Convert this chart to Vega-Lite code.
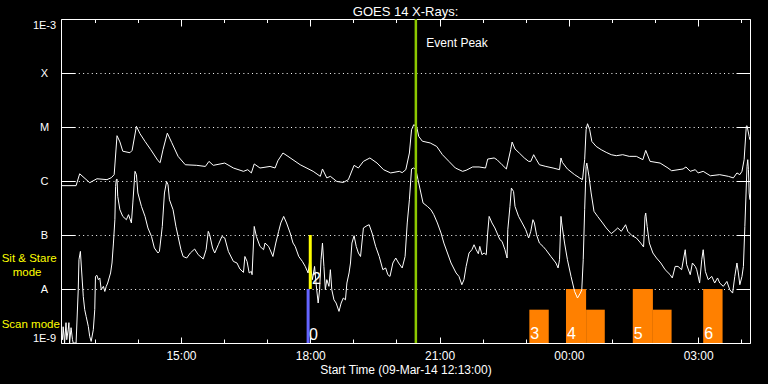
{
"$schema": "https://vega.github.io/schema/vega-lite/v6.json",
"width": 689, "height": 324, "autosize": "none",
"padding": {"left": 61, "top": 19, "right": 18, "bottom": 41},
"background": "black",
"config": {"view": {"stroke": null}, "font": "Liberation Sans", "axis": {"labelFont": "Liberation Sans", "titleFont": "Liberation Sans", "tickWidth": 1, "domainWidth": 1}},
"title": {"text": "GOES 14 X-Rays:", "color": "white", "fontSize": 13, "fontWeight": "normal", "font": "Liberation Sans", "anchor": "middle", "frame": "group", "offset": 5, "baseline": "alphabetic", "dy": 16},
"datasets": {
"upper": [
{"t":"2014-03-09T12:13","f":8.2e-7},{"t":"2014-03-09T12:34","f":8.2e-7},{"t":"2014-03-09T12:39","f":1.36e-6},{"t":"2014-03-09T12:53","f":9.3e-7},{"t":"2014-03-09T13:03","f":1.1e-6},{"t":"2014-03-09T13:17","f":1.06e-6},{"t":"2014-03-09T13:23","f":1.15e-6},{"t":"2014-03-09T13:27","f":1.31e-6},{"t":"2014-03-09T13:31","f":6.9e-6},{"t":"2014-03-09T13:35","f":5.3e-6},{"t":"2014-03-09T13:39","f":3.56e-6},{"t":"2014-03-09T13:49","f":3.34e-6},{"t":"2014-03-09T13:52","f":3.69e-6},{"t":"2014-03-09T13:58","f":1.03e-5},{"t":"2014-03-09T14:03","f":7.5e-6},{"t":"2014-03-09T14:10","f":5.4e-6},{"t":"2014-03-09T14:18","f":3.8e-6},{"t":"2014-03-09T14:28","f":2.38e-6},{"t":"2014-03-09T14:31","f":2.18e-6},{"t":"2014-03-09T14:35","f":3.8e-6},{"t":"2014-03-09T14:41","f":7.7e-6},{"t":"2014-03-09T14:47","f":5.2e-6},{"t":"2014-03-09T14:56","f":2.86e-6},{"t":"2014-03-09T15:06","f":2.0e-6},{"t":"2014-03-09T15:22","f":1.95e-6},{"t":"2014-03-09T15:34","f":1.86e-6},{"t":"2014-03-09T15:39","f":2.31e-6},{"t":"2014-03-09T15:45","f":1.95e-6},{"t":"2014-03-09T16:01","f":2.15e-6},{"t":"2014-03-09T16:13","f":1.74e-6},{"t":"2014-03-09T16:27","f":1.51e-6},{"t":"2014-03-09T16:33","f":1.62e-6},{"t":"2014-03-09T16:38","f":1.41e-6},{"t":"2014-03-09T16:42","f":2.07e-6},{"t":"2014-03-09T16:50","f":1.74e-6},{"t":"2014-03-09T17:04","f":1.86e-6},{"t":"2014-03-09T17:11","f":1.74e-6},{"t":"2014-03-09T17:15","f":2.38e-6},{"t":"2014-03-09T17:22","f":3.3e-6},{"t":"2014-03-09T17:29","f":2.86e-6},{"t":"2014-03-09T17:46","f":2.0e-6},{"t":"2014-03-09T18:04","f":1.51e-6},{"t":"2014-03-09T18:14","f":1.22e-6},{"t":"2014-03-09T18:17","f":1.67e-6},{"t":"2014-03-09T18:23","f":1.14e-6},{"t":"2014-03-09T18:28","f":1.22e-6},{"t":"2014-03-09T18:37","f":9.8e-7},{"t":"2014-03-09T18:46","f":9.4e-7},{"t":"2014-03-09T18:53","f":1.06e-6},{"t":"2014-03-09T19:01","f":1.95e-6},{"t":"2014-03-09T19:07","f":1.74e-6},{"t":"2014-03-09T19:14","f":2.31e-6},{"t":"2014-03-09T19:23","f":2.67e-6},{"t":"2014-03-09T19:33","f":2.15e-6},{"t":"2014-03-09T19:42","f":1.62e-6},{"t":"2014-03-09T19:52","f":1.41e-6},{"t":"2014-03-09T20:04","f":1.51e-6},{"t":"2014-03-09T20:08","f":1.43e-6},{"t":"2014-03-09T20:13","f":1.62e-6},{"t":"2014-03-09T20:18","f":3.3e-6},{"t":"2014-03-09T20:21","f":8.9e-6},{"t":"2014-03-09T20:24","f":1.1e-5},{"t":"2014-03-09T20:28","f":1.03e-5},{"t":"2014-03-09T20:31","f":6.7e-6},{"t":"2014-03-09T20:36","f":5.46e-6},{"t":"2014-03-09T20:47","f":5.06e-6},{"t":"2014-03-09T20:56","f":4.37e-6},{"t":"2014-03-09T21:04","f":3.07e-6},{"t":"2014-03-09T21:13","f":2.31e-6},{"t":"2014-03-09T21:22","f":1.74e-6},{"t":"2014-03-09T21:32","f":1.51e-6},{"t":"2014-03-09T21:37","f":1.58e-6},{"t":"2014-03-09T21:46","f":1.82e-6},{"t":"2014-03-09T21:55","f":1.82e-6},{"t":"2014-03-09T22:04","f":1.74e-6},{"t":"2014-03-09T22:07","f":2.55e-6},{"t":"2014-03-09T22:16","f":2.67e-6},{"t":"2014-03-09T22:20","f":2.48e-6},{"t":"2014-03-09T22:27","f":2.0e-6},{"t":"2014-03-09T22:33","f":1.67e-6},{"t":"2014-03-09T22:39","f":3.8e-6},{"t":"2014-03-09T22:41","f":5.27e-6},{"t":"2014-03-09T22:45","f":3.92e-6},{"t":"2014-03-09T22:51","f":3.3e-6},{"t":"2014-03-09T22:58","f":2.67e-6},{"t":"2014-03-09T23:04","f":2.31e-6},{"t":"2014-03-09T23:07","f":2.31e-6},{"t":"2014-03-09T23:11","f":3.07e-6},{"t":"2014-03-09T23:14","f":2.59e-6},{"t":"2014-03-09T23:19","f":2.0e-6},{"t":"2014-03-09T23:28","f":1.86e-6},{"t":"2014-03-09T23:38","f":1.74e-6},{"t":"2014-03-09T23:47","f":1.62e-6},{"t":"2014-03-09T23:49","f":2.67e-6},{"t":"2014-03-09T23:51","f":2.21e-6},{"t":"2014-03-09T23:58","f":1.67e-6},{"t":"2014-03-10T00:08","f":1.31e-6},{"t":"2014-03-10T00:15","f":1.14e-6},{"t":"2014-03-10T00:19","f":1.06e-6},{"t":"2014-03-10T00:22","f":2.48e-6},{"t":"2014-03-10T00:24","f":8.9e-6},{"t":"2014-03-10T00:26","f":1.15e-5},{"t":"2014-03-10T00:29","f":8.9e-6},{"t":"2014-03-10T00:32","f":5.4e-6},{"t":"2014-03-10T00:38","f":4.37e-6},{"t":"2014-03-10T00:45","f":3.8e-6},{"t":"2014-03-10T00:52","f":3.39e-6},{"t":"2014-03-10T00:59","f":3.07e-6},{"t":"2014-03-10T01:06","f":2.94e-6},{"t":"2014-03-10T01:15","f":3.07e-6},{"t":"2014-03-10T01:24","f":2.86e-6},{"t":"2014-03-10T01:34","f":2.86e-6},{"t":"2014-03-10T01:43","f":2.48e-6},{"t":"2014-03-10T01:47","f":3.69e-6},{"t":"2014-03-10T01:53","f":2.31e-6},{"t":"2014-03-10T02:07","f":2.15e-6},{"t":"2014-03-10T02:18","f":1.74e-6},{"t":"2014-03-10T02:23","f":1.55e-6},{"t":"2014-03-10T02:39","f":1.67e-6},{"t":"2014-03-10T02:43","f":1.82e-6},{"t":"2014-03-10T02:49","f":1.51e-6},{"t":"2014-03-10T02:56","f":1.62e-6},{"t":"2014-03-10T03:00","f":1.41e-6},{"t":"2014-03-10T03:07","f":1.51e-6},{"t":"2014-03-10T03:17","f":1.25e-6},{"t":"2014-03-10T03:30","f":1.31e-6},{"t":"2014-03-10T03:42","f":1.22e-6},{"t":"2014-03-10T03:49","f":1.14e-6},{"t":"2014-03-10T03:54","f":1.41e-6},{"t":"2014-03-10T03:58","f":1.31e-6},{"t":"2014-03-10T04:01","f":1.51e-6},{"t":"2014-03-10T04:04","f":2.48e-6},{"t":"2014-03-10T04:07","f":1.03e-5},{"t":"2014-03-10T04:08","f":1.06e-5},{"t":"2014-03-10T04:11","f":6.7e-6},{"t":"2014-03-10T04:12","f":5.8e-6}
],
"lower": [
{"t":"2014-03-09T12:13","f":1.76e-9},{"t":"2014-03-09T12:15","f":1.15e-9},{"t":"2014-03-09T12:16","f":2.0e-9},{"t":"2014-03-09T12:18","f":1.0e-9},{"t":"2014-03-09T12:20","f":2.38e-9},{"t":"2014-03-09T12:21","f":1.15e-9},{"t":"2014-03-09T12:23","f":1.76e-9},{"t":"2014-03-09T12:24","f":2.38e-9},{"t":"2014-03-09T12:25","f":1.0e-9},{"t":"2014-03-09T12:27","f":1.92e-9},{"t":"2014-03-09T12:29","f":1.15e-9},{"t":"2014-03-09T12:30","f":1.0e-9},{"t":"2014-03-09T12:34","f":1.0e-9},{"t":"2014-03-09T12:37","f":9.7e-9},{"t":"2014-03-09T12:38","f":3.49e-8},{"t":"2014-03-09T12:40","f":4.97e-8},{"t":"2014-03-09T12:41","f":3.03e-8},{"t":"2014-03-09T12:44","f":7.3e-9},{"t":"2014-03-09T12:46","f":4.14e-9},{"t":"2014-03-09T12:48","f":3.11e-9},{"t":"2014-03-09T12:51","f":2.03e-9},{"t":"2014-03-09T12:53","f":1.32e-9},{"t":"2014-03-09T12:55","f":1.07e-9},{"t":"2014-03-09T12:58","f":1.76e-9},{"t":"2014-03-09T13:00","f":4.14e-9},{"t":"2014-03-09T13:01","f":1.71e-8},{"t":"2014-03-09T13:03","f":1.79e-8},{"t":"2014-03-09T13:05","f":1.49e-8},{"t":"2014-03-09T13:07","f":1.6e-8},{"t":"2014-03-09T13:09","f":9.7e-9},{"t":"2014-03-09T13:12","f":1.12e-8},{"t":"2014-03-09T13:14","f":9.0e-9},{"t":"2014-03-09T13:16","f":1.12e-8},{"t":"2014-03-09T13:18","f":1.29e-8},{"t":"2014-03-09T13:22","f":1.98e-8},{"t":"2014-03-09T13:24","f":3.03e-8},{"t":"2014-03-09T13:26","f":7.1e-8},{"t":"2014-03-09T13:28","f":1.92e-7},{"t":"2014-03-09T13:29","f":7.9e-7},{"t":"2014-03-09T13:30","f":1.06e-6},{"t":"2014-03-09T13:31","f":1.09e-6},{"t":"2014-03-09T13:32","f":5.19e-7},{"t":"2014-03-09T13:35","f":2.94e-7},{"t":"2014-03-09T13:39","f":2.21e-7},{"t":"2014-03-09T13:44","f":1.92e-7},{"t":"2014-03-09T13:47","f":2.38e-7},{"t":"2014-03-09T13:51","f":1.67e-7},{"t":"2014-03-09T13:53","f":3.92e-7},{"t":"2014-03-09T13:56","f":1.51e-6},{"t":"2014-03-09T13:58","f":1.31e-6},{"t":"2014-03-09T14:00","f":6.0e-7},{"t":"2014-03-09T14:05","f":3.39e-7},{"t":"2014-03-09T14:10","f":2.21e-7},{"t":"2014-03-09T14:14","f":1.35e-7},{"t":"2014-03-09T14:19","f":9.4e-8},{"t":"2014-03-09T14:23","f":5.74e-8},{"t":"2014-03-09T14:28","f":4.64e-8},{"t":"2014-03-09T14:30","f":4.97e-8},{"t":"2014-03-09T14:34","f":1.44e-7},{"t":"2014-03-09T14:37","f":6.0e-7},{"t":"2014-03-09T14:40","f":9.8e-7},{"t":"2014-03-09T14:42","f":8.5e-7},{"t":"2014-03-09T14:44","f":4.5e-7},{"t":"2014-03-09T14:49","f":2.94e-7},{"t":"2014-03-09T14:53","f":1.44e-7},{"t":"2014-03-09T14:56","f":9.4e-8},{"t":"2014-03-09T15:00","f":5.34e-8},{"t":"2014-03-09T15:03","f":4.0e-8},{"t":"2014-03-09T15:08","f":3.75e-8},{"t":"2014-03-09T15:13","f":4.64e-8},{"t":"2014-03-09T15:19","f":5.5e-8},{"t":"2014-03-09T15:24","f":4.32e-8},{"t":"2014-03-09T15:31","f":3.6e-8},{"t":"2014-03-09T15:35","f":5.34e-8},{"t":"2014-03-09T15:38","f":1.17e-7},{"t":"2014-03-09T15:40","f":1.01e-7},{"t":"2014-03-09T15:44","f":5.74e-8},{"t":"2014-03-09T15:47","f":4.64e-8},{"t":"2014-03-09T15:52","f":6.6e-8},{"t":"2014-03-09T15:57","f":9.4e-8},{"t":"2014-03-09T16:01","f":8.8e-8},{"t":"2014-03-09T16:06","f":4.97e-8},{"t":"2014-03-09T16:13","f":3.24e-8},{"t":"2014-03-09T16:18","f":3.03e-8},{"t":"2014-03-09T16:22","f":2.35e-8},{"t":"2014-03-09T16:27","f":2.03e-8},{"t":"2014-03-09T16:29","f":4.0e-8},{"t":"2014-03-09T16:32","f":3.24e-8},{"t":"2014-03-09T16:35","f":1.98e-8},{"t":"2014-03-09T16:38","f":2.12e-8},{"t":"2014-03-09T16:39","f":1.84e-8},{"t":"2014-03-09T16:42","f":1.44e-7},{"t":"2014-03-09T16:45","f":9.4e-8},{"t":"2014-03-09T16:50","f":6.15e-8},{"t":"2014-03-09T16:55","f":5.34e-8},{"t":"2014-03-09T16:57","f":7.1e-8},{"t":"2014-03-09T17:02","f":6.15e-8},{"t":"2014-03-09T17:06","f":4.64e-8},{"t":"2014-03-09T17:08","f":4.0e-8},{"t":"2014-03-09T17:12","f":7.1e-8},{"t":"2014-03-09T17:16","f":1.17e-7},{"t":"2014-03-09T17:19","f":1.67e-7},{"t":"2014-03-09T17:23","f":2.21e-7},{"t":"2014-03-09T17:27","f":1.67e-7},{"t":"2014-03-09T17:32","f":1.09e-7},{"t":"2014-03-09T17:36","f":7.1e-8},{"t":"2014-03-09T17:39","f":6.15e-8},{"t":"2014-03-09T17:44","f":4.0e-8},{"t":"2014-03-09T17:49","f":3.24e-8},{"t":"2014-03-09T17:53","f":2.62e-8},{"t":"2014-03-09T17:57","f":1.98e-8},{"t":"2014-03-09T18:00","f":4.0e-8},{"t":"2014-03-09T18:01","f":2.28e-8},{"t":"2014-03-09T18:03","f":1.49e-8},{"t":"2014-03-09T18:06","f":2.62e-8},{"t":"2014-03-09T18:08","f":1.29e-8},{"t":"2014-03-09T18:11","f":5.5e-9},{"t":"2014-03-09T18:13","f":9.7e-9},{"t":"2014-03-09T18:15","f":3.49e-8},{"t":"2014-03-09T18:17","f":7.1e-8},{"t":"2014-03-09T18:19","f":2.62e-8},{"t":"2014-03-09T18:21","f":9.7e-9},{"t":"2014-03-09T18:23","f":1.49e-8},{"t":"2014-03-09T18:26","f":1.12e-8},{"t":"2014-03-09T18:28","f":2.28e-8},{"t":"2014-03-09T18:30","f":9.7e-9},{"t":"2014-03-09T18:33","f":6.3e-9},{"t":"2014-03-09T18:36","f":5.5e-9},{"t":"2014-03-09T18:40","f":3.85e-9},{"t":"2014-03-09T18:43","f":5.5e-9},{"t":"2014-03-09T18:46","f":6.8e-9},{"t":"2014-03-09T18:49","f":6.3e-9},{"t":"2014-03-09T18:51","f":1.29e-8},{"t":"2014-03-09T18:54","f":1.98e-8},{"t":"2014-03-09T18:56","f":3.03e-8},{"t":"2014-03-09T18:58","f":7.1e-8},{"t":"2014-03-09T19:01","f":9.7e-8},{"t":"2014-03-09T19:04","f":6.15e-8},{"t":"2014-03-09T19:07","f":4.64e-8},{"t":"2014-03-09T19:10","f":4.0e-8},{"t":"2014-03-09T19:14","f":1.35e-7},{"t":"2014-03-09T19:19","f":1.49e-7},{"t":"2014-03-09T19:22","f":1.55e-7},{"t":"2014-03-09T19:26","f":1.09e-7},{"t":"2014-03-09T19:31","f":6.15e-8},{"t":"2014-03-09T19:36","f":4.0e-8},{"t":"2014-03-09T19:41","f":2.28e-8},{"t":"2014-03-09T19:45","f":2.45e-8},{"t":"2014-03-09T19:48","f":1.84e-8},{"t":"2014-03-09T19:51","f":1.71e-8},{"t":"2014-03-09T19:55","f":3.03e-8},{"t":"2014-03-09T19:59","f":3.75e-8},{"t":"2014-03-09T20:03","f":3.03e-8},{"t":"2014-03-09T20:08","f":2.45e-8},{"t":"2014-03-09T20:12","f":4.0e-8},{"t":"2014-03-09T20:15","f":1.67e-7},{"t":"2014-03-09T20:18","f":4.5e-7},{"t":"2014-03-09T20:21","f":1.67e-6},{"t":"2014-03-09T20:24","f":1.74e-6},{"t":"2014-03-09T20:27","f":1.62e-6},{"t":"2014-03-09T20:30","f":1.06e-6},{"t":"2014-03-09T20:34","f":6.0e-7},{"t":"2014-03-09T20:37","f":3.92e-7},{"t":"2014-03-09T20:43","f":3.39e-7},{"t":"2014-03-09T20:48","f":2.94e-7},{"t":"2014-03-09T20:52","f":2.38e-7},{"t":"2014-03-09T20:57","f":1.67e-7},{"t":"2014-03-09T21:02","f":1.09e-7},{"t":"2014-03-09T21:06","f":7.1e-8},{"t":"2014-03-09T21:11","f":4.64e-8},{"t":"2014-03-09T21:16","f":3.03e-8},{"t":"2014-03-09T21:23","f":1.98e-8},{"t":"2014-03-09T21:27","f":1.71e-8},{"t":"2014-03-09T21:31","f":1.2e-8},{"t":"2014-03-09T21:34","f":1.49e-8},{"t":"2014-03-09T21:37","f":2.62e-8},{"t":"2014-03-09T21:41","f":4.64e-8},{"t":"2014-03-09T21:45","f":5.34e-8},{"t":"2014-03-09T21:48","f":6.6e-8},{"t":"2014-03-09T21:51","f":5.34e-8},{"t":"2014-03-09T21:54","f":4.5e-8},{"t":"2014-03-09T21:56","f":6.15e-8},{"t":"2014-03-09T21:59","f":4.32e-8},{"t":"2014-03-09T22:02","f":4.64e-8},{"t":"2014-03-09T22:05","f":4.32e-8},{"t":"2014-03-09T22:07","f":1.09e-7},{"t":"2014-03-09T22:09","f":2.21e-7},{"t":"2014-03-09T22:13","f":1.67e-7},{"t":"2014-03-09T22:17","f":1.35e-7},{"t":"2014-03-09T22:20","f":1.09e-7},{"t":"2014-03-09T22:24","f":8.2e-8},{"t":"2014-03-09T22:27","f":7.6e-8},{"t":"2014-03-09T22:31","f":5.34e-8},{"t":"2014-03-09T22:34","f":3.75e-8},{"t":"2014-03-09T22:35","f":1.25e-7},{"t":"2014-03-09T22:38","f":3.39e-7},{"t":"2014-03-09T22:40","f":7.4e-7},{"t":"2014-03-09T22:43","f":6.4e-7},{"t":"2014-03-09T22:45","f":3.39e-7},{"t":"2014-03-09T22:50","f":2.21e-7},{"t":"2014-03-09T22:55","f":1.67e-7},{"t":"2014-03-09T23:00","f":1.25e-7},{"t":"2014-03-09T23:04","f":8.8e-8},{"t":"2014-03-09T23:07","f":1.17e-7},{"t":"2014-03-09T23:10","f":1.92e-7},{"t":"2014-03-09T23:12","f":1.67e-7},{"t":"2014-03-09T23:15","f":1.01e-7},{"t":"2014-03-09T23:19","f":7.1e-8},{"t":"2014-03-09T23:24","f":6.15e-8},{"t":"2014-03-09T23:28","f":5.34e-8},{"t":"2014-03-09T23:35","f":4.0e-8},{"t":"2014-03-09T23:42","f":3.03e-8},{"t":"2014-03-09T23:45","f":2.45e-8},{"t":"2014-03-09T23:47","f":3.49e-8},{"t":"2014-03-09T23:49","f":2.21e-7},{"t":"2014-03-09T23:50","f":1.67e-7},{"t":"2014-03-09T23:54","f":7.1e-8},{"t":"2014-03-09T23:58","f":3.49e-8},{"t":"2014-03-10T00:03","f":1.71e-8},{"t":"2014-03-10T00:08","f":9.0e-9},{"t":"2014-03-10T00:12","f":6.8e-9},{"t":"2014-03-10T00:16","f":8.4e-9},{"t":"2014-03-10T00:18","f":9.7e-9},{"t":"2014-03-10T00:20","f":3.49e-8},{"t":"2014-03-10T00:22","f":2.94e-7},{"t":"2014-03-10T00:24","f":1.86e-6},{"t":"2014-03-10T00:25","f":2.15e-6},{"t":"2014-03-10T00:28","f":1.22e-6},{"t":"2014-03-10T00:31","f":6.0e-7},{"t":"2014-03-10T00:35","f":2.74e-7},{"t":"2014-03-10T00:40","f":2.21e-7},{"t":"2014-03-10T00:47","f":1.67e-7},{"t":"2014-03-10T00:52","f":1.35e-7},{"t":"2014-03-10T00:59","f":1.06e-7},{"t":"2014-03-10T01:03","f":1.17e-7},{"t":"2014-03-10T01:08","f":1.35e-7},{"t":"2014-03-10T01:13","f":1.17e-7},{"t":"2014-03-10T01:19","f":1.55e-7},{"t":"2014-03-10T01:22","f":1.17e-7},{"t":"2014-03-10T01:28","f":9.7e-8},{"t":"2014-03-10T01:34","f":8.8e-8},{"t":"2014-03-10T01:40","f":7.1e-8},{"t":"2014-03-10T01:44","f":6.0e-8},{"t":"2014-03-10T01:46","f":2.21e-7},{"t":"2014-03-10T01:47","f":2.55e-7},{"t":"2014-03-10T01:49","f":1.44e-7},{"t":"2014-03-10T01:52","f":7.1e-8},{"t":"2014-03-10T01:57","f":4.64e-8},{"t":"2014-03-10T02:02","f":3.75e-8},{"t":"2014-03-10T02:08","f":3.03e-8},{"t":"2014-03-10T02:14","f":2.28e-8},{"t":"2014-03-10T02:21","f":1.84e-8},{"t":"2014-03-10T02:24","f":1.6e-8},{"t":"2014-03-10T02:28","f":2.62e-8},{"t":"2014-03-10T02:32","f":2.62e-8},{"t":"2014-03-10T02:37","f":2.28e-8},{"t":"2014-03-10T02:42","f":5.34e-8},{"t":"2014-03-10T02:44","f":2.82e-8},{"t":"2014-03-10T02:49","f":1.84e-8},{"t":"2014-03-10T02:52","f":3.03e-8},{"t":"2014-03-10T02:56","f":2.62e-8},{"t":"2014-03-10T02:58","f":2.28e-8},{"t":"2014-03-10T03:02","f":1.29e-8},{"t":"2014-03-10T03:05","f":3.49e-8},{"t":"2014-03-10T03:07","f":5.34e-8},{"t":"2014-03-10T03:10","f":2.12e-8},{"t":"2014-03-10T03:14","f":1.49e-8},{"t":"2014-03-10T03:19","f":1.71e-8},{"t":"2014-03-10T03:23","f":1.29e-8},{"t":"2014-03-10T03:27","f":1.6e-8},{"t":"2014-03-10T03:30","f":1.29e-8},{"t":"2014-03-10T03:35","f":1.12e-8},{"t":"2014-03-10T03:40","f":1.38e-8},{"t":"2014-03-10T03:44","f":9.7e-9},{"t":"2014-03-10T03:48","f":8.4e-9},{"t":"2014-03-10T03:51","f":1.71e-8},{"t":"2014-03-10T03:54","f":3.03e-8},{"t":"2014-03-10T03:56","f":1.98e-8},{"t":"2014-03-10T03:58","f":1.2e-8},{"t":"2014-03-10T04:01","f":1.71e-8},{"t":"2014-03-10T04:03","f":2.62e-8},{"t":"2014-03-10T04:05","f":1.44e-7},{"t":"2014-03-10T04:08","f":1.86e-6},{"t":"2014-03-10T04:09","f":2.48e-6},{"t":"2014-03-10T04:10","f":1.62e-6},{"t":"2014-03-10T04:11","f":6.0e-7},{"t":"2014-03-10T04:12","f":4.5e-7}
],
"bars": [
{"t":"2014-03-09T23:05","t2":"2014-03-09T23:32","f":4.14e-9,"f2":1e-9},
{"t":"2014-03-09T23:56","t2":"2014-03-10T00:24","f":1e-8,"f2":1e-9},
{"t":"2014-03-10T00:24","t2":"2014-03-10T00:50","f":4.14e-9,"f2":1e-9},
{"t":"2014-03-10T01:29","t2":"2014-03-10T01:57","f":1e-8,"f2":1e-9},
{"t":"2014-03-10T01:57","t2":"2014-03-10T02:23","f":4.14e-9,"f2":1e-9},
{"t":"2014-03-10T03:07","t2":"2014-03-10T03:34","f":1e-8,"f2":1e-9}
],
"modes": [
{"t":"2014-03-09T17:57","f":1e-8,"f2":1e-9,"mode":"Scan"},
{"t":"2014-03-09T18:00","f":1e-7,"f2":1e-8,"mode":"Sit & Stare"}
],
"peak": [{"t":"2014-03-09T20:27","f":3.0e-4,"label":"Event Peak"}],
"nums": [
{"t":"2014-03-09T17:57","f":1.15e-9,"label":"0"},
{"t":"2014-03-09T18:01","f":1.25e-8,"label":"2"},
{"t":"2014-03-09T23:05","f":1.2e-9,"label":"3"},
{"t":"2014-03-09T23:56","f":1.2e-9,"label":"4"},
{"t":"2014-03-10T01:29","f":1.2e-9,"label":"5"},
{"t":"2014-03-10T03:07","f":1.2e-9,"label":"6"}
],
"ylabels": [
{"t":"2014-03-09T10:50:25","f":3.13e-8,"label":"Sit & Stare"},
{"t":"2014-03-09T11:05:45","f":1.73e-8,"label":"mode"},
{"t":"2014-03-09T10:50:25","f":1.86e-9,"label":"Scan mode"}
]
},
"layer": [
{"data": {"name": "bars"}, "mark": {"type": "rect", "color": "#ff8000"},
 "encoding": {
  "x": {"field": "t", "type": "temporal", "axis": null, "scale": {"domain": [{"year":2014,"month":3,"date":9,"hours":12,"minutes":13},{"year":2014,"month":3,"date":10,"hours":4,"minutes":12,"seconds":10}]}},
  "x2": {"field": "t2"},
  "y": {"field": "f", "type": "quantitative", "axis": null, "scale": {"type": "log", "domain": [1e-9, 1e-3]}},
  "y2": {"field": "f2"}}},
{"data": {"name": "upper"}, "mark": {"type": "line", "color": "white", "strokeWidth": 1, "clip": true},
 "encoding": {
  "x": {"field": "t", "type": "temporal",
   "axis": {"orient": "bottom", "values": [{"year":2014,"month":3,"date":9,"hours":13},{"year":2014,"month":3,"date":9,"hours":14},{"year":2014,"month":3,"date":9,"hours":15},{"year":2014,"month":3,"date":9,"hours":16},{"year":2014,"month":3,"date":9,"hours":17},{"year":2014,"month":3,"date":9,"hours":18},{"year":2014,"month":3,"date":9,"hours":19},{"year":2014,"month":3,"date":9,"hours":20},{"year":2014,"month":3,"date":9,"hours":21},{"year":2014,"month":3,"date":9,"hours":22},{"year":2014,"month":3,"date":9,"hours":23},{"year":2014,"month":3,"date":10,"hours":0},{"year":2014,"month":3,"date":10,"hours":1},{"year":2014,"month":3,"date":10,"hours":2},{"year":2014,"month":3,"date":10,"hours":3},{"year":2014,"month":3,"date":10,"hours":4}],
    "labelExpr": "hours(datum.value) % 3 == 0 ? timeFormat(datum.value, '%H:%M') : ''",
    "tickSize": {"condition": {"test": "hours(datum.value) % 3 == 0", "value": -6}, "value": -4},
    "labelPadding": 13, "labelBaseline": "top", "labelFlush": false, "labelOverlap": false,
    "labelColor": "white", "labelFontSize": 12, "tickColor": "white", "domainColor": "white", "grid": false,
    "title": "Start Time (09-Mar-14 12:13:00)", "titleColor": "white", "titleFontSize": 12, "titleFontWeight": "normal", "titleBaseline": "alphabetic", "titleY": 30},
   "scale": {"domain": [{"year":2014,"month":3,"date":9,"hours":12,"minutes":13},{"year":2014,"month":3,"date":10,"hours":4,"minutes":12,"seconds":10}]}},
  "y": {"field": "f", "type": "quantitative", "scale": {"type": "log", "domain": [1e-9, 1e-3]},
   "axis": {"orient": "left", "values": [1e-9, 1e-8, 1e-7, 1e-6, 1e-5, 1e-4, 1e-3],
    "labelExpr": "['1E-9','A','B','C','M','X','1E-3'][round(log(datum.value)/LN10)+9]",
    "tickSize": -14, "labelPadding": 31, "labelAlign": "center", "labelFlush": false,
    "labelBaseline": {"condition": [{"test": "datum.value > 5e-4", "value": "top"}, {"test": "datum.value < 2e-9", "value": "bottom"}], "value": "middle"},
    "labelColor": "white", "labelFontSize": 11, "tickColor": "white", "domainColor": "white",
    "grid": true, "gridColor": "white", "gridDash": [1, 3.33],
    "gridOpacity": {"condition": {"test": "datum.value > 2e-9 && datum.value < 5e-4", "value": 1}, "value": 0},
    "title": null}}}},
{"data": {"name": "lower"}, "mark": {"type": "line", "color": "white", "strokeWidth": 1, "clip": true},
 "encoding": {
  "x": {"field": "t", "type": "temporal",
   "axis": {"orient": "top", "values": [{"year":2014,"month":3,"date":9,"hours":13},{"year":2014,"month":3,"date":9,"hours":14},{"year":2014,"month":3,"date":9,"hours":15},{"year":2014,"month":3,"date":9,"hours":16},{"year":2014,"month":3,"date":9,"hours":17},{"year":2014,"month":3,"date":9,"hours":18},{"year":2014,"month":3,"date":9,"hours":19},{"year":2014,"month":3,"date":9,"hours":20},{"year":2014,"month":3,"date":9,"hours":21},{"year":2014,"month":3,"date":9,"hours":22},{"year":2014,"month":3,"date":9,"hours":23},{"year":2014,"month":3,"date":10,"hours":0},{"year":2014,"month":3,"date":10,"hours":1},{"year":2014,"month":3,"date":10,"hours":2},{"year":2014,"month":3,"date":10,"hours":3},{"year":2014,"month":3,"date":10,"hours":4}],
    "labels": false,
    "tickSize": {"condition": {"test": "hours(datum.value) % 3 == 0", "value": -7}, "value": -3.5},
    "tickColor": "white", "domainColor": "white", "grid": false, "title": null},
   "scale": {"domain": [{"year":2014,"month":3,"date":9,"hours":12,"minutes":13},{"year":2014,"month":3,"date":10,"hours":4,"minutes":12,"seconds":10}]}},
  "y": {"field": "f", "type": "quantitative", "scale": {"type": "log", "domain": [1e-9, 1e-3]},
   "axis": {"orient": "right", "values": [1e-9, 1e-8, 1e-7, 1e-6, 1e-5, 1e-4, 1e-3], "labels": false, "tickSize": -14, "tickColor": "white", "domainColor": "white", "grid": false, "title": null}}}},
{"data": {"name": "modes"}, "mark": {"type": "rule", "strokeWidth": 3},
 "encoding": {
  "x": {"field": "t", "type": "temporal", "axis": null},
  "y": {"field": "f", "type": "quantitative", "axis": null},
  "y2": {"field": "f2"},
  "color": {"field": "mode", "type": "nominal", "scale": {"domain": ["Scan", "Sit & Stare"], "range": ["#6464ff", "#ffff00"]}, "legend": null}}},
{"data": {"name": "peak"}, "mark": {"type": "rule", "color": "#8cc800", "strokeWidth": 2.5},
 "encoding": {"x": {"field": "t", "type": "temporal", "axis": null}}},
{"data": {"name": "peak"}, "mark": {"type": "text", "color": "white", "fontSize": 12, "align": "left", "baseline": "alphabetic", "dx": 10.5},
 "encoding": {"x": {"field": "t", "type": "temporal", "axis": null}, "y": {"field": "f", "type": "quantitative", "axis": null}, "text": {"field": "label"}}},
{"data": {"name": "nums"}, "mark": {"type": "text", "color": "white", "fontSize": 16, "align": "left", "baseline": "alphabetic", "dx": 1},
 "encoding": {"x": {"field": "t", "type": "temporal", "axis": null}, "y": {"field": "f", "type": "quantitative", "axis": null}, "text": {"field": "label"}}},
{"data": {"name": "ylabels"}, "mark": {"type": "text", "color": "#ffff00", "fontSize": 11.5, "align": "left", "baseline": "alphabetic"},
 "encoding": {"x": {"field": "t", "type": "temporal", "axis": null}, "y": {"field": "f", "type": "quantitative", "axis": null}, "text": {"field": "label"}}}
],
"resolve": {"axis": {"x": "independent", "y": "independent"}}
}
